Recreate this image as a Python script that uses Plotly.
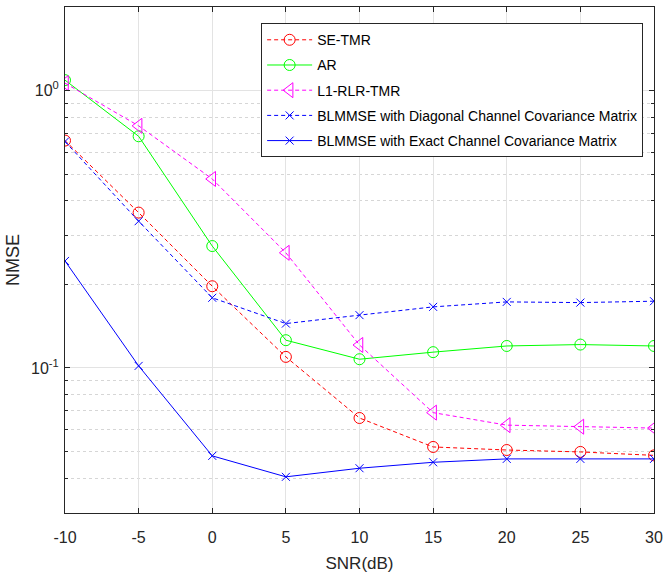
import plotly.graph_objects as go

snr = [-10, -5, 0, 5, 10, 15, 20, 25, 30]
se_tmr = [0.66, 0.363, 0.197, 0.1096, 0.066, 0.0519, 0.0506, 0.0498, 0.0484]
ar = [1.09, 0.684, 0.275, 0.1259, 0.1075, 0.114, 0.120, 0.1214, 0.120]
l1_rlr = [1.063, 0.746, 0.48, 0.26, 0.121, 0.069, 0.0622, 0.0614, 0.0607]
blmmse_diag = [0.655, 0.338, 0.179, 0.1445, 0.155, 0.166, 0.173, 0.172, 0.174]
blmmse_exact = [0.243, 0.1017, 0.0482, 0.0405, 0.0435, 0.0457, 0.047, 0.047, 0.047]

x_ticks = [-10, -5, 0, 5, 10, 15, 20, 25, 30]
y_major = [0.1, 1]
y_major_text = ["10<sup>-1</sup>", "10<sup>0</sup>"]
y_minor = [0.04, 0.05, 0.06, 0.07, 0.08, 0.09, 0.2, 0.3, 0.4, 0.5, 0.6, 0.7, 0.8, 0.9, 2]

series = [
    ("SE-TMR", se_tmr, "#ff0000", "4px,3px", "circle-open", 11),
    ("AR", ar, "#00ff00", "solid", "circle-open", 11),
    ("L1-RLR-TMR", l1_rlr, "#ff00ff", "4px,3px", "triangle-left-open", 13),
    ("BLMMSE with Diagonal Channel Covariance Matrix", blmmse_diag, "#0000ff", "4px,3px", "x-thin-open", 8),
    ("BLMMSE with Exact Channel Covariance Matrix", blmmse_exact, "#0000ff", "solid", "x-thin-open", 8),
]

FONT = "Liberation Sans, Arial, sans-serif"

fig = go.Figure()
for i, (name, vals, color, dash, sym, size) in enumerate(series):
    fig.add_trace(go.Scatter(
        x=snr, y=vals, name=name, mode="lines+markers", legendgroup=f"g{i}",
        line=dict(color=color, width=1, dash=dash),
        marker=dict(symbol=sym, size=size, color=color, line=dict(color=color, width=1)),
    ))

axis_common = dict(
    showline=True, linecolor="#262626", linewidth=1, mirror="ticks",
    ticks="inside", ticklen=5, tickcolor="#262626", automargin=False,
    showgrid=True, gridcolor="#e3e3e3", gridwidth=1, zeroline=False,
    tickfont=dict(family=FONT, size=16, color="#262626"),
)

fig.update_xaxes(
    range=[-10, 30], tickmode="array", tickvals=x_ticks,
    ticktext=[str(v) for v in x_ticks], ticklabelstandoff=10,
    title=dict(text="SNR(dB)", font=dict(family=FONT, size=17, color="#262626"), standoff=11),
    **axis_common,
)
fig.update_yaxes(
    type="log", range=[-1.5229, 0.30103], tickmode="array", tickvals=y_major,
    ticktext=y_major_text, ticklabelstandoff=2,
    title=dict(text="NMSE", font=dict(family=FONT, size=18, color="#262626"), standoff=6),
    minor=dict(tickmode="array", tickvals=y_minor, ticks="inside", ticklen=3,
               tickcolor="#262626", showgrid=True, gridcolor="#d6d6d6", griddash="dot", gridwidth=1),
    **axis_common,
)

fig.update_layout(
    width=663, height=581,
    margin=dict(l=65, r=9, t=7, b=68),
    plot_bgcolor="white", paper_bgcolor="white",
    font=dict(family=FONT, size=14, color="#000000"),
    legend=dict(
        x=0.333, y=0.968, xanchor="left", yanchor="top",
        bgcolor="white", bordercolor="#262626", borderwidth=1,
        font=dict(family=FONT, size=14, color="#000000"),
        itemwidth=45, tracegroupgap=4,
    ),
)

fig.write_html("out.html", config={"displayModeBar": False},
               post_script="document.body.style.margin='0';")
